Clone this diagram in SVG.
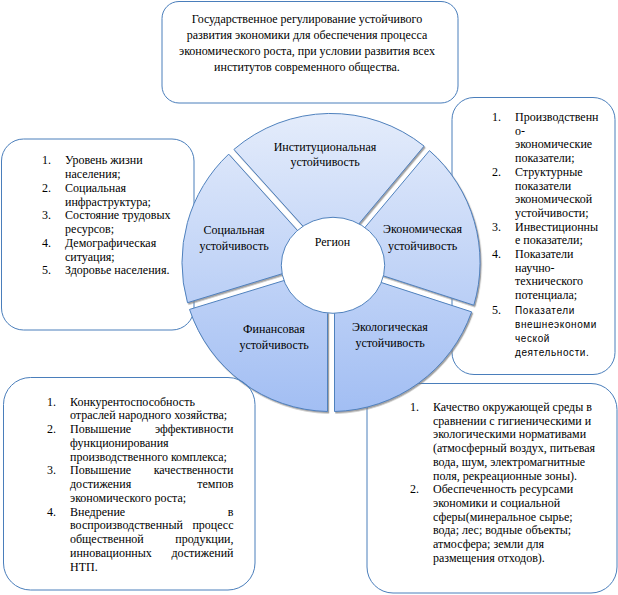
<svg xmlns="http://www.w3.org/2000/svg" width="618" height="595" viewBox="0 0 618 595">
<style>
.box{fill:#fff;stroke:#4a7ebb;stroke-width:1}
.over{fill:none;stroke:#4a7ebb;stroke-width:1}
.seg{fill:url(#g);stroke:#4f81bd;stroke-width:1;filter:url(#sh)}
.t{font-family:'Liberation Serif','Times New Roman','DejaVu Serif',serif;font-size:12px;fill:#000}
.m{text-anchor:middle}
.e{text-anchor:end}
.s{font-family:'Liberation Sans',Arial,sans-serif;font-size:10px;letter-spacing:0.6px;fill:#000}
</style>
<defs>
<linearGradient id="g" gradientUnits="userSpaceOnUse" x1="0" y1="113" x2="0" y2="412">
<stop offset="0" stop-color="#e4ecfb"/>
<stop offset="1" stop-color="#a2bef3"/>
</linearGradient>
<filter id="sh" x="-10%" y="-10%" width="120%" height="120%">
<feDropShadow dx="1.2" dy="1.5" stdDeviation="0.6" flood-color="#7a7a7a" flood-opacity="0.7"/>
</filter>
</defs>

<g id="goal">
<rect class="box" x="162" y="1.5" width="296" height="101.5" rx="17"/>
<text class="t m" x="307" y="22.5">Государственное регулирование устойчивого</text>
<text class="t m" x="307" y="38.5">развития экономики для обеспечения процесса</text>
<text class="t m" x="307" y="54.5">экономического роста, при условии развития всех</text>
<text class="t m" x="307" y="70.5">институтов современного общества.</text>
</g>

<g id="social-indicators">
<rect class="box" x="1.5" y="139" width="192.5" height="191" rx="22"/>
<text class="t" x="42" y="164.3">1.</text><text class="t" x="65" y="164.3">Уровень жизни</text>
<text class="t" x="65" y="178">населения;</text>
<text class="t" x="42" y="191.8">2.</text><text class="t" x="65" y="191.8">Социальная</text>
<text class="t" x="65" y="205.5">инфраструктура;</text>
<text class="t" x="42" y="219.3">3.</text><text class="t" x="65" y="219.3">Состояние трудовых</text>
<text class="t" x="65" y="233">ресурсов;</text>
<text class="t" x="42" y="246.8">4.</text><text class="t" x="65" y="246.8">Демографическая</text>
<text class="t" x="65" y="260.5">ситуация;</text>
<text class="t" x="42" y="274.3">5.</text><text class="t" x="65" y="274.3">Здоровье населения.</text>
</g>

<g id="economic-indicators">
<rect class="box" x="452" y="97.5" width="163" height="277" rx="22"/>
<text class="t" x="492" y="121">1.</text><text class="t" x="515" y="121">Производственн</text>
<text class="t" x="515" y="134.7">о-</text>
<text class="t" x="515" y="148.4">экономические</text>
<text class="t" x="515" y="162.1">показатели;</text>
<text class="t" x="492" y="175.8">2.</text><text class="t" x="515" y="175.8">Структурные</text>
<text class="t" x="515" y="189.5">показатели</text>
<text class="t" x="515" y="203.2">экономической</text>
<text class="t" x="515" y="216.9">устойчивости;</text>
<text class="t" x="492" y="230.6">3.</text><text class="t" x="515" y="230.6">Инвестиционны</text>
<text class="t" x="515" y="244.3">е показатели;</text>
<text class="t" x="492" y="258">4.</text><text class="t" x="515" y="258">Показатели</text>
<text class="t" x="515" y="271.7">научно-</text>
<text class="t" x="515" y="285.4">технического</text>
<text class="t" x="515" y="299.1">потенциала;</text>
<text class="t" x="492" y="313.5">5.</text><text class="s" x="515" y="313.5">Показатели</text>
<text class="s" x="515" y="328">внешнеэкономи</text>
<text class="s" x="515" y="342">ческой</text>
<text class="s" x="515" y="356">деятельности.</text>
</g>

<g id="ecological-indicators">
<rect class="box" x="367" y="383.5" width="250" height="209.5" rx="26"/>
<text class="t" x="410" y="411">1.</text><text class="t" x="433" y="411">Качество окружающей среды в</text>
<text class="t" x="433" y="424.7">сравнении с гигиеническими  и</text>
<text class="t" x="433" y="438.4">экологическими нормативами</text>
<text class="t" x="433" y="452.1">(атмосферный воздух, питьевая</text>
<text class="t" x="433" y="465.8">вода, шум, электромагнитные</text>
<text class="t" x="433" y="479.5">поля, рекреационные зоны).</text>
<text class="t" x="410" y="493.2">2.</text><text class="t" x="433" y="493.2">Обеспеченность ресурсами</text>
<text class="t" x="433" y="506.9">экономики и социальной</text>
<text class="t" x="433" y="520.6">сферы(минеральное сырье;</text>
<text class="t" x="433" y="534.3">вода; лес; водные объекты;</text>
<text class="t" x="433" y="548">атмосфера; земли для</text>
<text class="t" x="433" y="561.7">размещения отходов).</text>
</g>

<g id="institutional">
<path class="seg" d="M313.53 237.87 L233.9 149.43 A149 149 0 0 1 424.1 146.11 L347.6 237.27 Z"/>
<text class="t m" x="325" y="150.7">Институциональная</text>
<text class="t m" x="325" y="166">устойчивость</text>
</g>
<g id="economic">
<path class="seg" d="M352.96 241.77 L429.46 150.61 A149 149 0 0 1 473.79 305.21 L360.61 268.44 Z"/>
<text class="t m" x="422.5" y="233.3">Экономическая</text>
<text class="t m" x="422.5" y="250">устойчивость</text>
</g>
<g id="ecological">
<path class="seg" d="M358.45 275.1 L471.63 311.87 A149 149 0 0 1 334.5 411.5 L334.5 292.5 Z"/>
<text class="t m" x="390" y="331">Экологическая</text>
<text class="t m" x="390" y="346.7">устойчивость</text>
</g>
<g id="financial">
<path class="seg" d="M327.5 292.5 L327.5 411.5 A149 149 0 0 1 189.53 309.41 L303.33 274.62 Z"/>
<text class="t m" x="274" y="333.3">Финансовая</text>
<text class="t m" x="274" y="349">устойчивость</text>
</g>
<g id="social">
<path class="seg" d="M301.29 267.92 L187.49 302.71 A149 149 0 0 1 228.7 154.11 L308.33 242.55 Z"/>
<text class="t m" x="234" y="234.3">Социальная</text>
<text class="t m" x="234" y="250">устойчивость</text>
</g>

<g id="region">
<ellipse cx="333" cy="265.3" rx="51.7" ry="48" fill="#fff" stroke="#4f81bd" stroke-width="1"/>
<text class="t m" x="332.5" y="245.7">Регион</text>
</g>

<g id="financial-indicators">
<rect class="over" x="3.5" y="377.5" width="251.5" height="212.5" rx="27"/>
<text class="t" x="47" y="405.5">1.</text><text class="t" x="70" y="405.5">Конкурентоспособность</text>
<text class="t" x="70" y="419.2">отраслей народного хозяйства;</text>
<text class="t" x="47" y="433">2.</text><text class="t" x="70" y="433">Повышение</text><text class="t e" x="233.5" y="433">эффективности</text>
<text class="t" x="70" y="446.7">функционирования</text>
<text class="t" x="70" y="460.5">производственного комплекса;</text>
<text class="t" x="47" y="474.2">3.</text><text class="t" x="70" y="474.2">Повышение</text><text class="t e" x="233.5" y="474.2">качественности</text>
<text class="t" x="70" y="488">достижения</text><text class="t e" x="233.5" y="488">темпов</text>
<text class="t" x="70" y="501.7">экономического роста;</text>
<text class="t" x="47" y="515.5">4.</text><text class="t" x="70" y="515.5">Внедрение</text><text class="t e" x="233.5" y="515.5">в</text>
<text class="t" x="70" y="529.2">воспроизводственный</text><text class="t e" x="233.5" y="529.2">процесс</text>
<text class="t" x="70" y="543">общественной</text><text class="t e" x="233.5" y="543">продукции,</text>
<text class="t" x="70" y="556.7">инновационных</text><text class="t e" x="233.5" y="556.7">достижений</text>
<text class="t" x="70" y="570.5">НТП.</text>
</g>
</svg>
